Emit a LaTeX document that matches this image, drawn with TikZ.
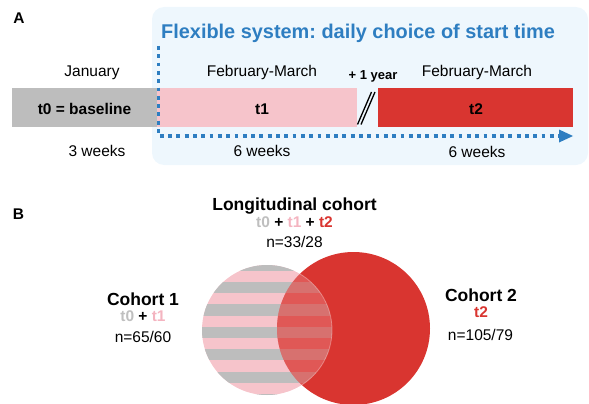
\documentclass[tikz,border=0pt]{standalone}
\usepackage{fontspec}
\setmainfont{Liberation Sans}
\usetikzlibrary{arrows.meta}
\definecolor{barGray}{HTML}{BDBDBD}
\definecolor{barPink}{HTML}{F6C4CB}
\definecolor{barRed}{HTML}{D93530}
\definecolor{flexBlue}{HTML}{2E7EC1}
\definecolor{panelBlue}{HTML}{EEF7FD}
\definecolor{txtGray}{HTML}{BFBFBF}
\definecolor{txtPink}{HTML}{F4B4C0}
\definecolor{txtRed}{HTML}{D93530}
\begin{document}
\frenchspacing
\begin{tikzpicture}[x=1pt,y=-1pt,
  lbl/.style={font=\fontsize{15.5}{18}\selectfont, anchor=base, inner sep=0pt},
  blbl/.style={font=\fontsize{15.5}{18}\bfseries\selectfont, anchor=base, inner sep=0pt},
  small/.style={font=\fontsize{13}{15}\bfseries\selectfont, anchor=base, inner sep=0pt},
  hdr/.style={font=\fontsize{17.5}{20}\bfseries\selectfont, anchor=base, inner sep=0pt},
  ttl/.style={font=\fontsize{19.9}{22}\bfseries\frenchspacing\selectfont, anchor=base west, inner sep=0pt, text=flexBlue},
  bar/.style={rectangle, inner sep=0pt, minimum height=39pt, draw=none},
  flow/.style={draw=flexBlue, line width=3.6pt, dash pattern=on 3.8pt off 4.5pt},
]
\useasboundingbox (0,0) rectangle (589,404);

% ---------- Panel A ----------
\node[blbl] (labA) at (19,24) {A};
\node[rectangle, rounded corners=12pt, fill=panelBlue, minimum width=436pt, minimum height=158pt, inner sep=0pt] (panel) at (370,86) {};
\node[ttl] (title) at (161,39) {Flexible system: daily choice of start time};

\node[bar, fill=barGray, minimum width=145pt] (bar0) at (84.5,107.5) {};
\node[bar, fill=barPink, minimum width=200pt] (bar1) at (257,107.5) {};
\node[bar, fill=barRed, minimum width=195pt] (bar2) at (475.5,107.5) {};

\node[blbl] (t0txt) at (84.5,114) {t0 = baseline};
\node[blbl] (t1txt) at (262,114) {t1};
\node[blbl] (t2txt) at (476,114) {t2};

\node[lbl] (jan) at (92,77) {January};
\node[lbl] (feb1) at (262,77) {February-March};
\node[lbl] (feb2) at (477,77) {February-March};
\node[small] (year) at (373,80) {+ 1 year};

\node[lbl] (w0) at (97,156) {3 weeks};
\node[lbl] (w1) at (262,156) {6 weeks};
\node[lbl] (w2) at (477,157) {6 weeks};

% break marks
\coordinate (s1a) at (357.5,124.5);
\coordinate (s1b) at (371.5,92);
\coordinate (s2a) at (361,124.5);
\coordinate (s2b) at (375,92);
\draw[line width=1.3pt] (s1a) -- (s1b);
\draw[line width=1.3pt] (s2a) -- (s2b);

% dotted flexible-system arrow
\coordinate (d0) at (158.5,46);
\coordinate (d1) at (158.5,136);
\coordinate (d2) at (559,136);
\coordinate (d3) at (573,136);
\draw[flow] (d0) -- (d1) -- (d2);
\fill[flexBlue] (d3) -- (559,129.5) -- (559,142.5) -- cycle;

% ---------- Panel B ----------
\node[blbl] (labB) at (18.5,219) {B};

\node[hdr] (longi) at (294.5,210) {Longitudinal cohort};
\node[blbl] (longit) at (294.5,227.7) {{\color{txtGray}t0} + {\color{txtPink}t1} + {\color{txtRed}t2}};
\node[lbl] (longin) at (294.5,247.3) {n=33/28};

\node[hdr] (c1) at (143,305) {Cohort 1};
\node[blbl] (c1t) at (143,321) {{\color{txtGray}t0} + {\color{txtPink}t1}};
\node[lbl] (c1n) at (143,342.7) {n=65/60};

\node[hdr] (c2) at (481,301.7) {Cohort 2};
\node[blbl] (c2t) at (481,317.3) {{\color{txtRed}t2}};
\node[lbl] (c2n) at (480.5,340.7) {n=105/79};

% circles
\coordinate (cL) at (267,330);
\coordinate (cR) at (353.5,328.5);

\begin{scope}
  \clip (cL) circle[radius=65pt];
  \fill[barPink] (cL) circle[radius=65pt];
  \foreach \k in {0,...,6} {
    \fill[barGray] (195,{259.6+22.4*\k}) rectangle (340,{270.8+22.4*\k});
  }
\end{scope}

\fill[barRed] (cR) circle[radius=76.5pt];

\begin{scope}
  \clip (cR) circle[radius=76.5pt];
  \clip (cL) circle[radius=65pt];
  \fill[barPink, opacity=0.25] (cL) circle[radius=65pt];
  \foreach \k in {0,...,6} {
    \fill[barGray, opacity=0.25] (195,{259.6+22.4*\k}) rectangle (340,{270.8+22.4*\k});
  }
\end{scope}
\begin{scope}
  \clip (cR) circle[radius=76.5pt];
  \draw[white, opacity=0.35, line width=0.8pt] (cL) circle[radius=65pt];
\end{scope}
\end{tikzpicture}
\end{document}
